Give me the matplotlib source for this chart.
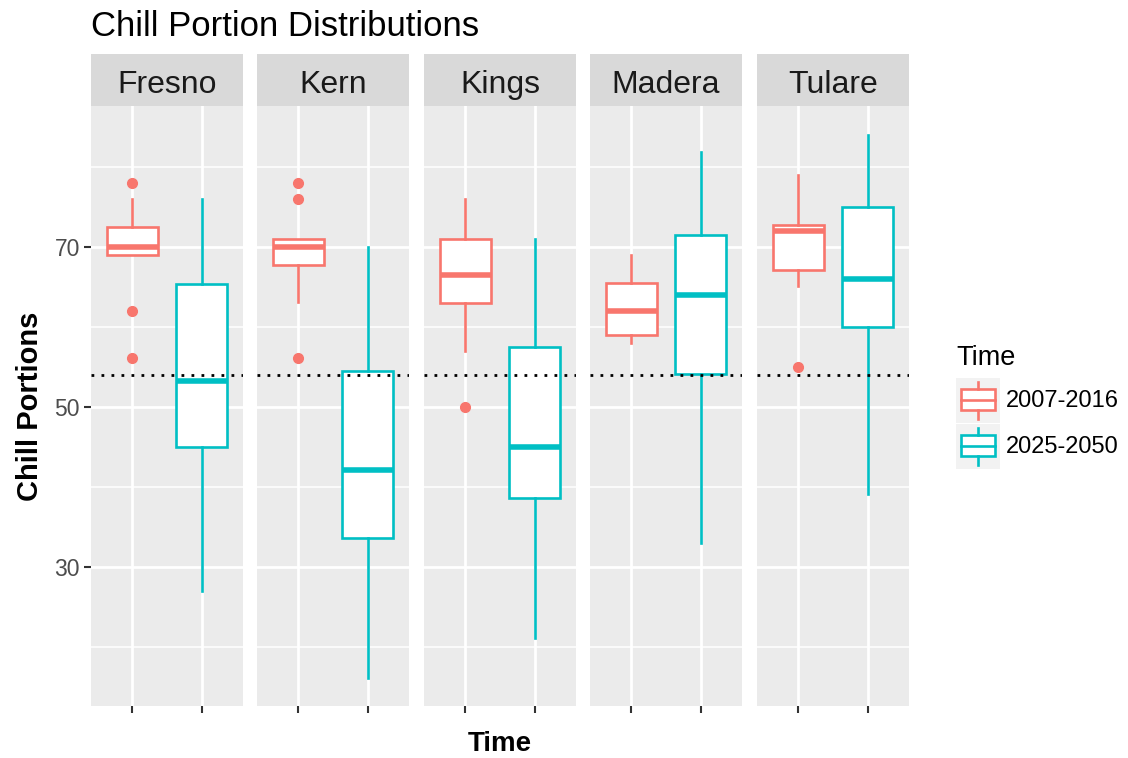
import matplotlib
matplotlib.use("Agg")
import matplotlib.pyplot as plt
from matplotlib.patches import Rectangle
from matplotlib.lines import Line2D

plt.rcParams['font.family'] = ['Liberation Sans', 'DejaVu Sans']

counties = ["Fresno", "Kern", "Kings", "Madera", "Tulare"]
periods = ["2007-2016", "2025-2050"]
colors = ["#F8766D", "#00BFC4"]
threshold = 54

hist_whislo = [69, 63.1, 57, 58, 65.1]
hist_q1 = [69, 67.7, 63, 59, 67.1]
hist_med = [70, 70, 66.5, 62, 72]
hist_q3 = [72.5, 71, 71, 65.5, 72.8]
hist_whishi = [76, 71, 76, 69, 79]
hist_fliers = [[78, 62, 56.1], [78, 76, 56.1], [50], [], [55]]

fut_whislo = [27, 16.1, 21.1, 33, 39.1]
fut_q1 = [45, 33.6, 38.6, 54.1, 60]
fut_med = [53.2, 42.1, 45, 64, 66]
fut_q3 = [65.4, 54.5, 57.5, 71.5, 75]
fut_whishi = [76, 70, 71, 81.9, 84]
fut_fliers = [[], [], [], [], []]

y_major = [30, 50, 70]
y_minor = [20, 40, 60, 80]
ylim = (12.6, 87.7)

W, H = 1128, 758
fig = plt.figure(figsize=(W / 100, H / 100), dpi=100)


def px_axes(x0, y0, x1, y1):
    return fig.add_axes([x0 / W, 1 - y1 / H, (x1 - x0) / W, (y1 - y0) / H])


panel_left = [91, 257, 424, 590, 757]
panel_w = 152
panel_top, panel_bot = 105.5, 706
strip_top = 54

hist = [hist_whislo, hist_q1, hist_med, hist_q3, hist_whishi, hist_fliers]
fut = [fut_whislo, fut_q1, fut_med, fut_q3, fut_whishi, fut_fliers]

for i, county in enumerate(counties):
    x0 = panel_left[i]
    ax = px_axes(x0, panel_top, x0 + panel_w, panel_bot)
    ax.set_facecolor("#EBEBEB")
    for s in ax.spines.values():
        s.set_visible(False)
    ax.set_xlim(0.4, 2.6)
    ax.set_ylim(*ylim)
    for v in y_minor:
        ax.axhline(v, color="white", lw=1.1, zorder=0.5)
    for v in y_major:
        ax.axhline(v, color="white", lw=2.0, zorder=0.6)
    for xv in (1, 2):
        ax.axvline(xv, color="white", lw=2.0, zorder=0.6)
    for j, data in enumerate([hist, fut]):
        st = dict(whislo=data[0][i], q1=data[1][i], med=data[2][i], q3=data[3][i],
                  whishi=data[4][i], fliers=data[5][i], label=periods[j])
        c = colors[j]
        ax.bxp([st], positions=[j + 1], widths=0.75, patch_artist=True, showcaps=False,
               boxprops=dict(facecolor="white", edgecolor=c, linewidth=1.9),
               whiskerprops=dict(color=c, linewidth=1.9),
               medianprops=dict(color=c, linewidth=4.0, solid_capstyle="butt"),
               flierprops=dict(marker="o", markerfacecolor=c, markeredgecolor=c, markersize=7),
               manage_ticks=False, zorder=2)
    ax.axhline(threshold, color="black", lw=2.0, linestyle=(0, (1, 2.6)), zorder=3)
    ax.set_xticks([1, 2])
    ax.set_xticklabels([])
    ax.tick_params(axis="x", length=5, width=1.5, color="#333333")
    ax.set_yticks(y_major)
    if i == 0:
        ax.set_yticklabels([str(v) for v in y_major], fontsize=16.5, color="#4D4D4D")
        ax.tick_params(axis="y", length=5, width=1.5, color="#333333", pad=3)
    else:
        ax.set_yticklabels([])
        ax.tick_params(axis="y", length=0)
    # strip
    sax = px_axes(x0, strip_top, x0 + panel_w, panel_top)
    sax.set_facecolor("#D9D9D9")
    for s in sax.spines.values():
        s.set_visible(False)
    sax.set_xticks([])
    sax.set_yticks([])
    sax.text(0.5, 0.40, county, ha="center", va="center", fontsize=23, color="#1A1A1A",
             transform=sax.transAxes)

# titles
fig.text(91 / W, 1 - 36 / H, "Chill Portion Distributions", fontsize=25, color="black",
         ha="left", va="baseline")
fig.text(500 / W, 1 - 751 / H, "Time", fontsize=20, fontweight="bold", ha="center", va="baseline")
fig.text(30 / W, 1 - 406 / H, "Chill Portions", fontsize=21, fontweight="bold", rotation=90,
         ha="center", va="center")

# legend
fig.text(956 / W, 1 - 365 / H, "Time", fontsize=19.5, ha="left", va="baseline")
lax = px_axes(950, 370, 1128, 475)
lax.set_xlim(950, 1128)
lax.set_ylim(475, 370)
lax.axis("off")
for j, p in enumerate(periods):
    ky = 378 + j * 46
    lax.add_patch(Rectangle((956, ky), 44, 45, facecolor="#F2F2F2", edgecolor="none"))
    c = colors[j]
    cx = 978
    lax.add_line(Line2D([cx, cx], [ky + 4, ky + 11], color=c, lw=1.9))
    lax.add_line(Line2D([cx, cx], [ky + 32, ky + 41], color=c, lw=1.9))
    lax.add_patch(Rectangle((961, ky + 11), 34, 21, facecolor="white", edgecolor=c, lw=1.9))
    lax.add_line(Line2D([961, 995], [ky + 22, ky + 22], color=c, lw=1.9))
    lax.text(1006, ky + 23, p, fontsize=17, va="center", ha="left")

fig.savefig("out.png", dpi=100)
